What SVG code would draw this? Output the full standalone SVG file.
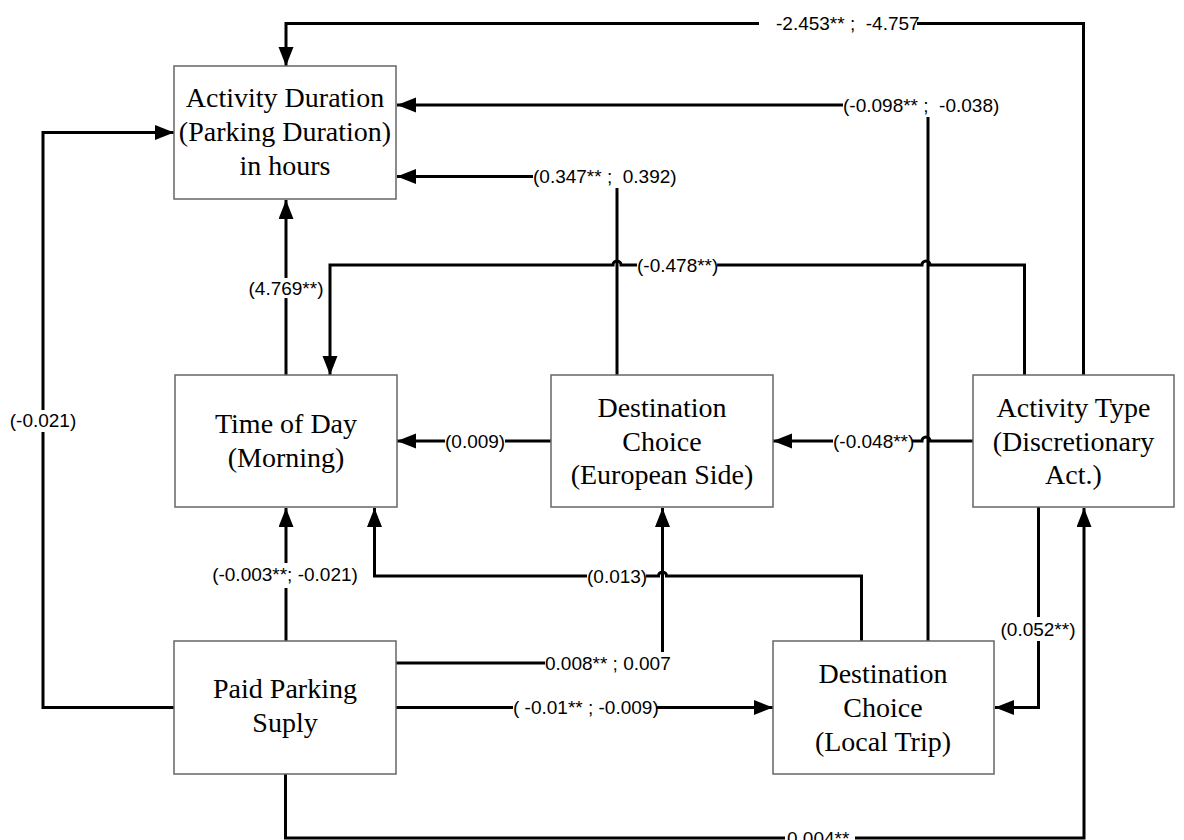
<svg xmlns="http://www.w3.org/2000/svg" width="1184" height="840" viewBox="0 0 1184 840">
<style>
.box{fill:#fff;stroke:#666;stroke-width:1.5}
.nt{font-family:"Liberation Serif","Times New Roman",serif;font-size:28px;text-anchor:middle;fill:#000}
.ln{fill:none;stroke:#000;stroke-width:3}
.ar{marker-end:url(#ah)}
.lb{font-family:"Liberation Sans",Arial,sans-serif;font-size:19px;fill:#000;white-space:pre}
.c{text-anchor:middle}
</style>
<defs>
<marker id="ah" markerUnits="userSpaceOnUse" markerWidth="20" markerHeight="16" refX="19" refY="7.5" orient="auto">
<path d="M0,0 L19,7.5 L0,15 Z" fill="#000"/>
</marker>
</defs>
<rect width="1184" height="840" fill="#fff"/>
<g id="connectors">
<path class="ln" d="M1083.5,375 V23.5 H917"/>
<path class="ln ar" d="M759,23.5 H286 V66"/>
<path class="ln" d="M928,641 V117"/>
<path class="ln ar" d="M843,105 H397"/>
<path class="ln" d="M617,375 V188"/>
<path class="ln ar" d="M533,176.5 H397"/>
<path class="ln" d="M286,375 V298"/>
<path class="ln ar" d="M286,278 V200"/>
<path class="ln" d="M1024.5,375 V265 H930 A4,4 0 0 0 922,265 H717"/>
<path class="ln ar" d="M637,265 H621 A4,4 0 0 0 613,265 H330 V375"/>
<path class="ln" d="M174,707.5 H43 V432"/>
<path class="ln ar" d="M43,410 V132.5 H174"/>
<path class="ln" d="M551,441 H505"/>
<path class="ln ar" d="M445,441 H397"/>
<path class="ln" d="M973,441 H930 A4,4 0 0 0 922,441 H912"/>
<path class="ln ar" d="M833,441 H773"/>
<path class="ln" d="M286,641 V588"/>
<path class="ln ar" d="M286,563 V508"/>
<path class="ln" d="M861.5,641 V576 H666.5 A4,4 0 0 0 658.5,576 H646"/>
<path class="ln ar" d="M587,576 H374.5 V508"/>
<path class="ln" d="M396,663 H545"/>
<path class="ln ar" d="M662.5,652 V508"/>
<path class="ln" d="M396,707.5 H513"/>
<path class="ln ar" d="M656,707.5 H773"/>
<path class="ln" d="M1038.5,507 V617"/>
<path class="ln ar" d="M1038.5,641 V707.5 H995"/>
<path class="ln ar" d="M285.5,774 V838 H1084 V508"/>
</g>
<g id="labels">
<text class="lb" x="776" y="30">-2.453** ;  -4.757</text>
<text class="lb" x="843" y="111.5">(-0.098** ;  -0.038)</text>
<text class="lb" x="533" y="183">(0.347** ;  0.392)</text>
<text class="lb c" x="286" y="294.5">(4.769**)</text>
<text class="lb" x="637" y="271.5">(-0.478**)</text>
<text class="lb c" x="43" y="426.5">(-0.021)</text>
<text class="lb" x="445" y="447.5">(0.009)</text>
<text class="lb" x="833" y="447.5">(-0.048**)</text>
<text class="lb c" x="285" y="580.5">(-0.003**; -0.021)</text>
<text class="lb" x="587" y="582.5">(0.013)</text>
<text class="lb" x="545" y="669.5">0.008** ; 0.007</text>
<text class="lb" x="513" y="714">( -0.01** ; -0.009)</text>
<text class="lb c" x="1038" y="635.5">(0.052**)</text>
<rect x="785" y="831" width="70" height="9" fill="#fff"/>
<text class="lb" x="787" y="845">0.004**</text>
</g>
<g id="activity-duration">
<rect class="box" x="174" y="66" width="222" height="133"/>
<text class="nt" x="285" y="107">Activity Duration</text>
<text class="nt" x="285" y="141">(Parking Duration)</text>
<text class="nt" x="285" y="175">in hours</text>
</g>
<g id="time-of-day">
<rect class="box" x="175" y="375" width="222" height="132"/>
<text class="nt" x="286" y="433">Time of Day</text>
<text class="nt" x="286" y="467">(Morning)</text>
</g>
<g id="destination-european">
<rect class="box" x="551" y="375" width="222" height="132"/>
<text class="nt" x="662" y="417">Destination</text>
<text class="nt" x="662" y="450.5">Choice</text>
<text class="nt" x="662" y="484">(European Side)</text>
</g>
<g id="activity-type">
<rect class="box" x="973" y="375" width="201" height="132"/>
<text class="nt" x="1073.5" y="417">Activity Type</text>
<text class="nt" x="1073.5" y="450.5">(Discretionary</text>
<text class="nt" x="1073.5" y="484">Act.)</text>
</g>
<g id="paid-parking">
<rect class="box" x="174" y="641" width="222" height="133"/>
<text class="nt" x="285" y="698">Paid Parking</text>
<text class="nt" x="285" y="732">Suply</text>
</g>
<g id="destination-local">
<rect class="box" x="773" y="641" width="221" height="133"/>
<text class="nt" x="883" y="683">Destination</text>
<text class="nt" x="883" y="717">Choice</text>
<text class="nt" x="883" y="751">(Local Trip)</text>
</g>
</svg>
